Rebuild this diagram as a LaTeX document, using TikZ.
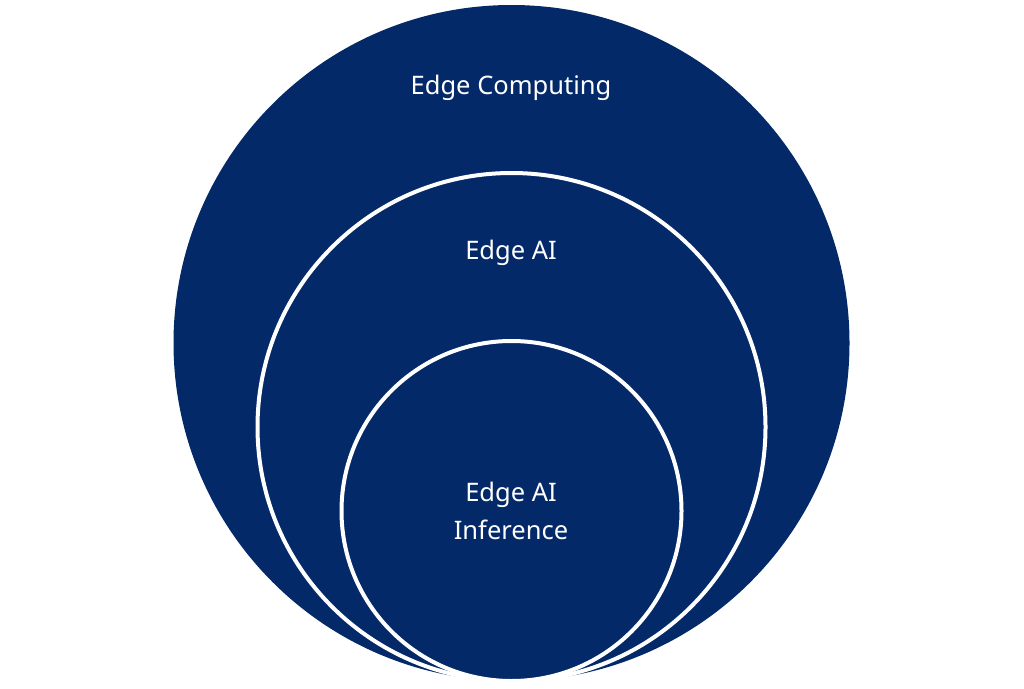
\documentclass[tikz,border=0pt]{standalone}
\usepackage{fontspec}
\setmainfont{Noto Sans}
\definecolor{navy}{RGB}{4,41,104}
\begin{document}
\begin{tikzpicture}[x=1pt,y=-1pt,
  ring/.style={fill=navy},
  inring/.style={fill=navy,draw=white,line width=4pt},
  lbl/.style={text=white,font=\fontsize{25.5}{38}\selectfont,align=center}]
\useasboundingbox (0,0) rectangle (1024,688);
\fill[white] (0,0) rectangle (1024,688);
% nested circles, all touching at the bottom
\path[ring] (511.5,343) circle[radius=338];
\path[inring] (511.5,427) circle[radius=254];
\path[inring] (511.5,511) circle[radius=170];
\node[lbl] (outer) at (511,88) {Edge Computing};
\node[lbl] (mid) at (511,253) {Edge AI};
\node[lbl] (inner) at (511,511) {Edge AI\\Inference};
\end{tikzpicture}
\end{document}
